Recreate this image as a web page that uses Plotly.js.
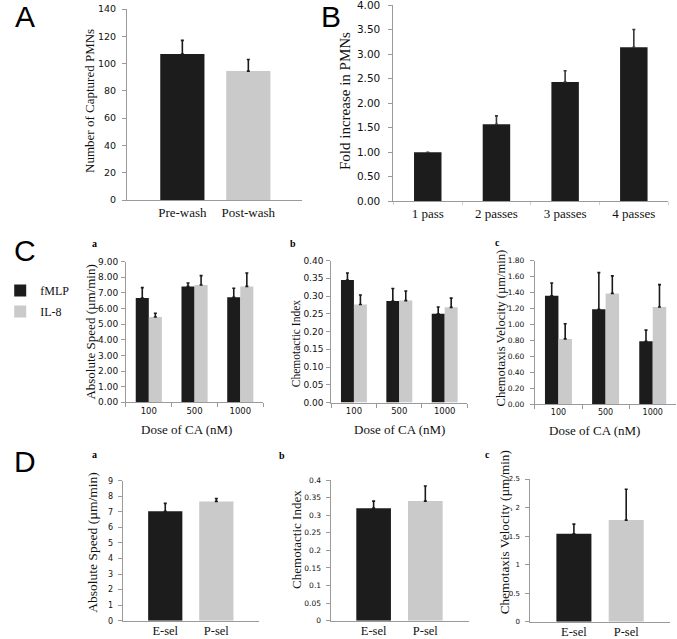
<!DOCTYPE html>
<html>
<head>
<meta charset="utf-8">
<script src="https://cdn.plot.ly/plotly-3.0.1.min.js"></script>
<style>html,body{margin:0;padding:0;background:#fff;}#chart{width:677px;height:639px;}</style>
</head>
<body>
<div id="chart"></div>
<script>
// ---------- DATA ----------
const catsA = ['Pre-wash', 'Post-wash'];
const valsA = [107, 94.5];
const errA = [10, 8.5];

const catsB = ['1 pass', '2 passes', '3 passes', '4 passes'];
const valsB = [1.00, 1.57, 2.43, 3.14];
const errB = [0, 0.17, 0.23, 0.36];

const doses = ['100', '500', '1000'];
const seriesNames = ['fMLP', 'IL-8'];
const speedFMLP = [6.68, 7.42, 6.72];
const speedFMLPErr = [0.66, 0.22, 0.58];
const speedIL8 = [5.46, 7.51, 7.42];
const speedIL8Err = [0.24, 0.60, 0.86];
const ciFMLP = [0.345, 0.286, 0.250];
const ciFMLPErr = [0.020, 0.035, 0.019];
const ciIL8 = [0.276, 0.287, 0.268];
const ciIL8Err = [0.027, 0.027, 0.026];
const velFMLP = [1.36, 1.19, 0.79];
const velFMLPErr = [0.16, 0.46, 0.14];
const velIL8 = [0.82, 1.39, 1.22];
const velIL8Err = [0.19, 0.22, 0.28];

const selCats = ['E-sel', 'P-sel'];
const selSpeed = [7.04, 7.67];
const selSpeedErr = [0.50, 0.19];
const selCI = [0.32, 0.34];
const selCIErr = [0.02, 0.043];
const selVel = [1.54, 1.78];
const selVelErr = [0.17, 0.54];

// ---------- STYLE ----------
const W = 677, H = 639;
const BLACK = '#1c1c1c', GRAY = '#cacaca', ERR = '#1a1a1a';
const SERIF = 'Liberation Serif, Times New Roman, serif';
const SANS = 'DejaVu Sans, Verdana, sans-serif';
const px = v => v / W;
const py = v => 1 - v / H;

function errY(arr, col) {
  return {type: 'data', array: arr, arrayminus: arr.map(() => 0), symmetric: false,
          color: col || ERR, thickness: 1.6, width: 1.5, visible: true};
}

const traces = [];
// A
traces.push({type: 'bar', x: catsA, y: valsA, width: 0.67, xaxis: 'x', yaxis: 'y',
  marker: {color: [BLACK, GRAY]}, error_y: errY(errA), showlegend: false, hoverinfo: 'none'});
// B
traces.push({type: 'bar', x: catsB, y: valsB, width: 0.4, xaxis: 'x2', yaxis: 'y2',
  marker: {color: BLACK}, error_y: errY(errB, '#3a3a3a'), showlegend: false, hoverinfo: 'none'});
// C panels
const cSets = [
  ['x3', 'y3', speedFMLP, speedFMLPErr, speedIL8, speedIL8Err],
  ['x4', 'y4', ciFMLP, ciFMLPErr, ciIL8, ciIL8Err],
  ['x5', 'y5', velFMLP, velFMLPErr, velIL8, velIL8Err]
];
cSets.forEach((s, i) => {
  traces.push({type: 'bar', name: seriesNames[0], legendgroup: 'g1', x: doses, y: s[2], xaxis: s[0], yaxis: s[1],
    marker: {color: BLACK}, error_y: errY(s[3]), showlegend: i === 0, hoverinfo: 'none'});
  traces.push({type: 'bar', name: seriesNames[1], legendgroup: 'g2', x: doses, y: s[4], xaxis: s[0], yaxis: s[1],
    marker: {color: GRAY}, error_y: errY(s[5]), showlegend: i === 0, hoverinfo: 'none'});
});
// D panels
const dSets = [['x6', 'y6', selSpeed, selSpeedErr], ['x7', 'y7', selCI, selCIErr], ['x8', 'y8', selVel, selVelErr]];
dSets.forEach(s => {
  traces.push({type: 'bar', x: selCats, y: s[2], width: 0.67, xaxis: s[0], yaxis: s[1],
    marker: {color: [BLACK, GRAY]}, error_y: errY(s[3]), showlegend: false, hoverinfo: 'none'});
});

function xax(x0, x1, yId, opts) {
  return Object.assign({
    domain: [px(x0), px(x1)], anchor: yId, type: 'category', showgrid: false, zeroline: false,
    showline: true, linecolor: '#9a9a9a', linewidth: 1, ticks: '', fixedrange: true,
    tickfont: {family: SERIF, size: 13, color: '#111'}, ticklabeloverflow: 'allow'
  }, opts || {});
}
function yax(y0, y1, xId, range, dtick, fmt, fs, standoff) {
  return {
    domain: [py(y1), py(y0)], anchor: xId, range: range, dtick: dtick, tick0: 0, tickformat: fmt,
    showgrid: false, zeroline: false, showline: true, linecolor: '#9a9a9a', linewidth: 1,
    ticks: 'outside', ticklen: 4, tickcolor: '#9a9a9a', fixedrange: true,
    tickfont: {family: SANS, size: fs, color: '#111'}, ticklabelstandoff: standoff,
    ticklabeloverflow: 'allow'
  };
}
const dX = {range: [-0.833, 1.84], tickfont: {family: SERIF, size: 12.5, color: '#111'}, ticklabelstandoff: -2};

const layout = {
  width: W, height: H, margin: {l: 0, r: 0, t: 0, b: 0},
  paper_bgcolor: '#fff', plot_bgcolor: 'rgba(0,0,0,0)',
  barmode: 'group', bargap: 0.4286, bargroupgap: 0,
  showlegend: true,
  legend: {x: px(-12), xanchor: 'left', y: py(276), yanchor: 'top', bgcolor: 'rgba(0,0,0,0)',
    font: {family: SERIF, size: 12, color: '#111'}, tracegroupgap: 2, itemclick: false},
  xaxis: xax(117, 295, 'y', {range: [-0.84, 1.81]}),
  yaxis: yax(9, 200, 'x', [0, 140], 20, 'd', 9.5, 4),
  xaxis2: xax(388.3, 668, 'y2', {range: [-0.5, 3.5], ticks: 'outside', ticklen: 3, tickcolor: '#cfcfcf', tickson: 'boundaries'}),
  yaxis2: yax(5, 201.3, 'x2', [0, 4], 0.5, '.2f', 10.5, 6),
  xaxis3: xax(116, 255.7, 'y3', {range: [-0.5, 2.5], ticks: 'outside', ticklen: 4, tickcolor: '#9a9a9a', tickson: 'boundaries', tickfont: {family: SANS, size: 8.5, color: '#111'}}),
  yaxis3: yax(261.7, 402.3, 'x3', [0, 9], 1, '.2f', 9, 1),
  xaxis4: xax(325, 463.6, 'y4', {range: [-0.5, 2.5], ticks: 'outside', ticklen: 4, tickcolor: '#9a9a9a', tickson: 'boundaries', tickfont: {family: SANS, size: 8.5, color: '#111'}}),
  yaxis4: yax(260.5, 402.5, 'x4', [0, 0.4], 0.05, '.2f', 9, 1),
  xaxis5: xax(532.3, 676.3, 'y5', {range: [-0.5, 2.5], ticks: 'outside', ticklen: 4, tickcolor: '#9a9a9a', tickson: 'boundaries', tickfont: {family: SANS, size: 8, color: '#111'}}),
  yaxis5: yax(260.7, 404.3, 'x5', [0, 1.8], 0.2, '.2f', 7.5, 4),
  xaxis6: xax(112.7, 251.7, 'y6', dX),
  yaxis6: yax(480.7, 620.7, 'x6', [0, 9], 1, 'd', 8, 3),
  xaxis7: xax(324.3, 465, 'y7', dX),
  yaxis7: yax(480, 620.7, 'x7', [0, 0.4], 0.05, '', 7.5, 3),
  xaxis8: xax(527.7, 670, 'y8', dX),
  yaxis8: yax(479, 621.7, 'x8', [0, 2.5], 0.5, '', 7, 4),
  annotations: [],
  shapes: []
};

function ann(text, x, y, opts) {
  layout.annotations.push(Object.assign({text: text, x: px(x), y: py(y), xref: 'paper', yref: 'paper',
    showarrow: false, xanchor: 'center', yanchor: 'middle'}, opts));
}
// Panel letters
const big = {family: 'Liberation Sans, Arial, sans-serif', size: 30, color: '#000'};
ann('A', 13, 16, {font: big});
ann('B', 325, 16, {font: big});
ann('C', 13, 250, {font: big});
ann('D', 13, 461, {font: big});
// sub letters
const sub = {family: SERIF, size: 10, color: '#000'};
ann('<b>a</b>', 84, 244, {font: sub});
ann('<b>b</b>', 286, 243.5, {font: sub});
ann('<b>c</b>', 494, 243, {font: sub});
ann('<b>a</b>', 84, 455, {font: sub});
ann('<b>b</b>', 275, 455.5, {font: sub});
ann('<b>c</b>', 484, 454, {font: sub});
// y-axis titles
function ytitle(t, x, y, fs) {
  ann(t, x, y, {textangle: -90, font: {family: SERIF, size: fs, color: '#111'}});
}
ytitle('Number of Captured PMNs', 78.3, 101, 13);
ytitle('Fold increase in PMNs', 339, 101, 15);
ytitle('Absolute Speed (µm/min)', 80.3, 331.7, 13);
ytitle('Chemotactic Index', 289.3, 344, 11.5);
ytitle('Chemotaxis Velocity (µm/min)', 498.3, 328, 12.6);
ytitle('Absolute Speed (µm/min)', 81.7, 542.5, 13.5);
ytitle('Chemotactic Index', 289, 539, 13);
ytitle('Chemotaxis Velocity (µm/min)', 501.7, 532.5, 13.2);
// x-axis titles
const xt = {family: SERIF, size: 13, color: '#111'};
ann('Dose of CA (nM)', 178, 429.3, {font: xt});
ann('Dose of CA (nM)', 395, 429.3, {font: xt});
ann('Dose of CA (nM)', 593.3, 430.7, {font: xt});

Plotly.newPlot('chart', traces, layout, {staticPlot: true, displayModeBar: false});
</script>
</body>
</html>
